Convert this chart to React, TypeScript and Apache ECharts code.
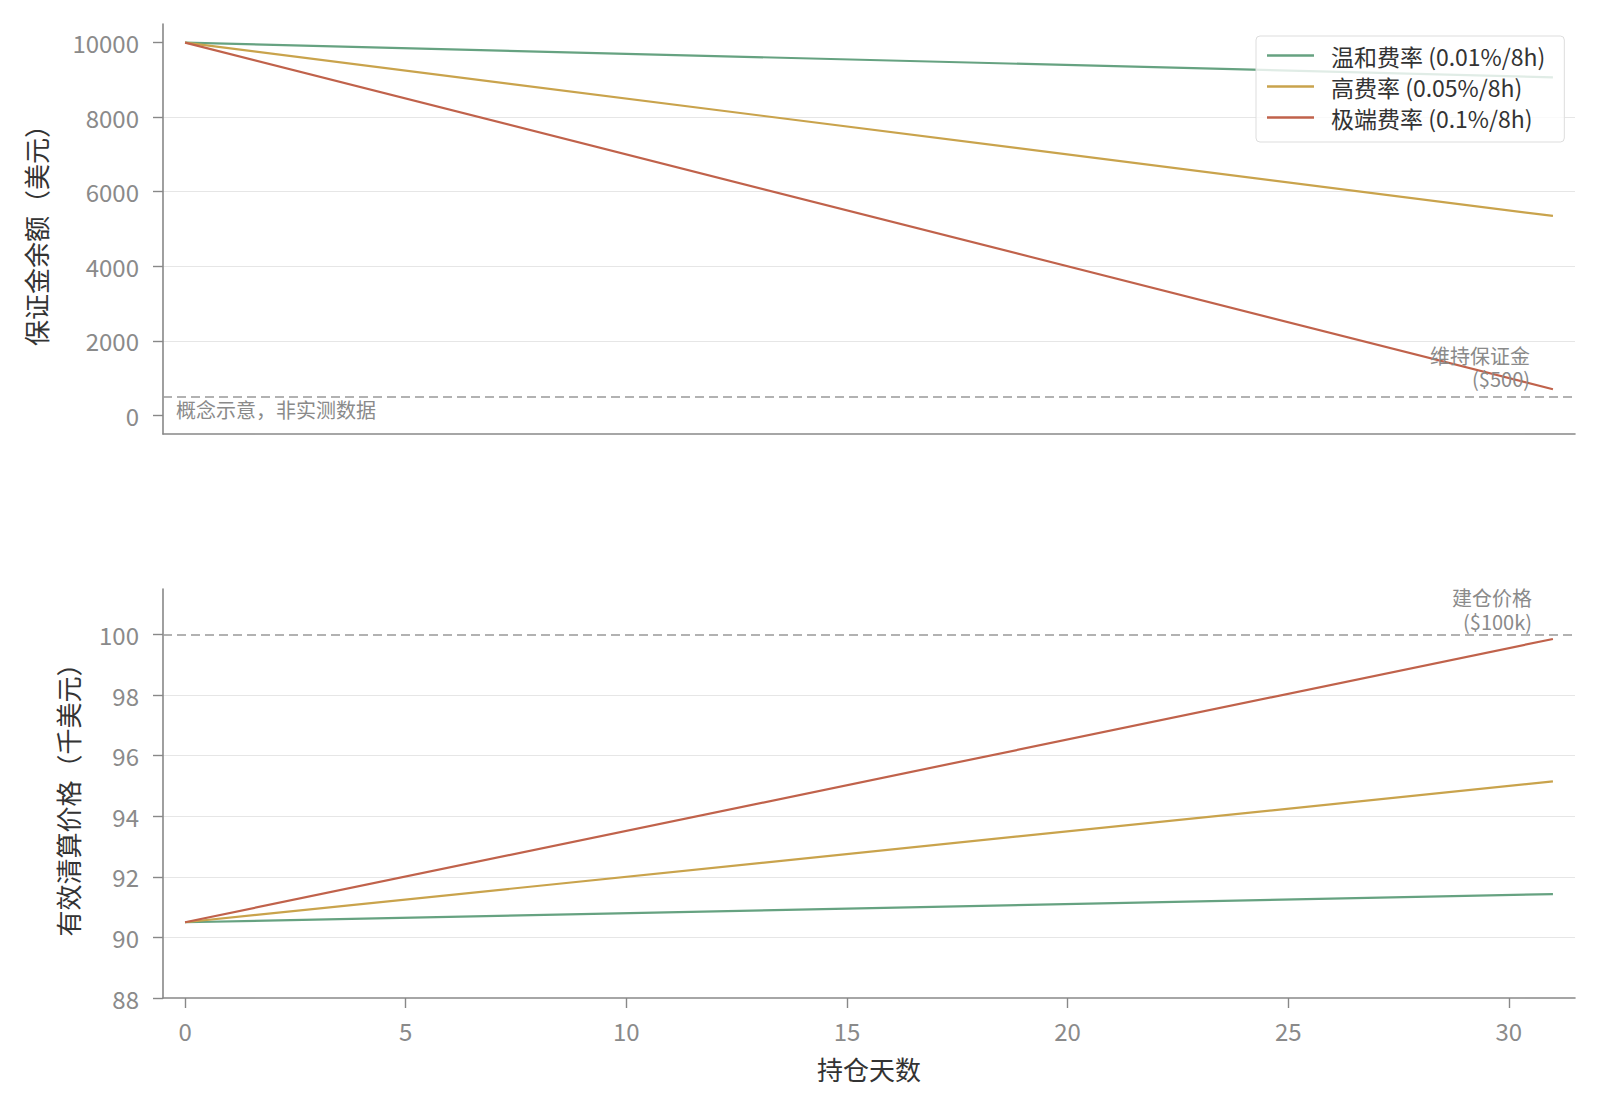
import React, { useEffect, useRef } from "react";
import * as echarts from "echarts";

// ---- data ----
const days = [0, 31];
const seriesNames = ["温和费率 (0.01%/8h)", "高费率 (0.05%/8h)", "极端费率 (0.1%/8h)"];
const marginMild = [10000, 9070];
const marginHigh = [10000, 5350];
const marginExtreme = [10000, 700];
const liqMild = [90.5, 91.43];
const liqHigh = [90.5, 95.15];
const liqExtreme = [90.5, 99.85];
const maintenanceMargin = 500;
const entryPrice = 100;
const xTicks = [0, 5, 10, 15, 20, 25, 30];
const marginTicks = [0, 2000, 4000, 6000, 8000, 10000];
const priceTicks = [88, 90, 92, 94, 96, 98, 100];

const colors = ["#66a281", "#c9a34c", "#c0624b"];
const FONT = "'Noto Sans CJK SC', 'Noto Sans', sans-serif";
const AXIS_GRAY = "#888888";
const TICK_TEXT = "#8a8a8a";
const GRID_LINE = "#e6e6e6";

const pairs = (ys: number[]) => days.map((d, i) => [d, ys[i]]);

export default function App() {
  const ref = useRef<HTMLDivElement>(null);

  useEffect(() => {
    if (!ref.current) return;
    const chart = echarts.init(ref.current, undefined, { renderer: "svg" });

    const axisLine = { show: true, onZero: false, lineStyle: { color: AXIS_GRAY, width: 1.6 } };
    const tickStyle = { lineStyle: { color: AXIS_GRAY, width: 1.4 } };
    const labelStyle = {
      color: TICK_TEXT,
      fontSize: 24,
      fontFamily: FONT,
      formatter: (v: number) => String(v),
    };
    const nameStyle = { color: "#333333", fontSize: 26, fontFamily: FONT };

    const lineSeries = (name: string, ys: number[], idx: number, color: string, extra: any = {}) => ({
      type: "line",
      name,
      xAxisIndex: idx,
      yAxisIndex: idx,
      data: pairs(ys),
      symbol: "none",
      showSymbol: false,
      lineStyle: { color, width: 2.2 },
      itemStyle: { color },
      z: 3,
      ...extra,
    });

    const option: any = {
      animation: false,
      textStyle: { fontFamily: FONT },
      grid: [
        { left: 163, top: 24, width: 1412, height: 410 },
        { left: 163, top: 589, width: 1412, height: 409 },
      ],
      legend: {
        data: seriesNames,
        orient: "vertical",
        left: 1256,
        top: 36,
        padding: [8, 19, 13, 11],
        icon: "rect",
        itemWidth: 47,
        itemHeight: 2.4,
        itemGap: 8,
        backgroundColor: "rgba(255,255,255,0.8)",
        borderColor: "#dddddd",
        borderWidth: 1,
        borderRadius: 4,
        textStyle: {
          color: "#333333",
          fontSize: 23,
          fontFamily: FONT,
          lineHeight: 22,
          padding: [0, 0, 0, 12],
        },
        z: 10,
      },
      xAxis: [
        {
          gridIndex: 0,
          type: "value",
          min: -0.5,
          max: 31.5,
          axisLine,
          axisTick: { show: false },
          axisLabel: { show: false },
          splitLine: { show: false },
        },
        {
          gridIndex: 1,
          type: "value",
          min: -0.5,
          max: 31.5,
          splitNumber: 6,
          axisLine,
          axisTick: { show: true, length: 10, customValues: xTicks, ...tickStyle },
          axisLabel: { customValues: xTicks, margin: 20, ...labelStyle },
          splitLine: { show: false },
          name: "持仓天数",
          nameLocation: "middle",
          nameGap: 57,
          nameTextStyle: nameStyle,
        },
      ],
      yAxis: [
        {
          gridIndex: 0,
          type: "value",
          min: -500,
          max: 10500,
          splitNumber: 5,
          axisLine,
          axisTick: { show: true, length: 10, customValues: marginTicks, ...tickStyle },
          axisLabel: { customValues: marginTicks, margin: 24, ...labelStyle },
          splitLine: {
            show: true,
            showMinLine: false,
            showMaxLine: false,
            lineStyle: { color: GRID_LINE, width: 1.2 },
          },
          name: "保证金余额（美元）",
          nameLocation: "middle",
          nameRotate: 90,
          nameGap: 115,
          nameTextStyle: nameStyle,
        },
        {
          gridIndex: 1,
          type: "value",
          min: 88,
          max: 101.5,
          splitNumber: 6,
          axisLine,
          axisTick: { show: true, length: 10, customValues: priceTicks, ...tickStyle },
          axisLabel: { customValues: priceTicks, margin: 24, ...labelStyle },
          splitLine: {
            show: true,
            showMinLine: false,
            showMaxLine: false,
            lineStyle: { color: GRID_LINE, width: 1.2 },
          },
          name: "有效清算价格（千美元）",
          nameLocation: "middle",
          nameRotate: 90,
          nameGap: 83,
          nameTextStyle: nameStyle,
        },
      ],
      graphic: [
        {
          type: "text",
          left: 176,
          top: 399,
          z: 5,
          style: { text: "概念示意，非实测数据", fill: "#8a8a8a", fontSize: 20, fontFamily: FONT },
        },
      ],
      series: [
        lineSeries(seriesNames[0], marginMild, 0, colors[0], {
          markLine: {
            symbol: "none",
            silent: true,
            lineStyle: { color: "#999999", type: [9, 5], width: 1.6 },
            label: {
              show: true,
              position: "insideEndTop",
              formatter: "维持保证金\n($500)",
              color: "#8a8a8a",
              fontSize: 20,
              lineHeight: 23,
              fontFamily: FONT,
              align: "right",
              padding: [0, 38, 0, 0],
              distance: 7,
            },
            data: [{ yAxis: maintenanceMargin }],
          },
        }),
        lineSeries(seriesNames[1], marginHigh, 0, colors[1]),
        lineSeries(seriesNames[2], marginExtreme, 0, colors[2]),
        lineSeries(seriesNames[0], liqMild, 1, colors[0], {
          markLine: {
            symbol: "none",
            silent: true,
            lineStyle: { color: "#999999", type: [9, 5], width: 1.6 },
            label: {
              show: true,
              position: "insideEndTop",
              formatter: "建仓价格\n($100k)",
              color: "#8a8a8a",
              fontSize: 20,
              lineHeight: 24,
              fontFamily: FONT,
              align: "right",
              padding: [0, 42, 0, 0],
              distance: 1,
            },
            data: [{ yAxis: entryPrice }],
          },
        }),
        lineSeries(seriesNames[1], liqHigh, 1, colors[1]),
        lineSeries(seriesNames[2], liqExtreme, 1, colors[2]),
      ],
    };

    chart.setOption(option);
    return () => chart.dispose();
  }, []);

  return (
    <div
      ref={ref}
      style={{ position: "fixed", left: 0, top: 0, width: 1600, height: 1110, background: "#ffffff" }}
    />
  );
}
